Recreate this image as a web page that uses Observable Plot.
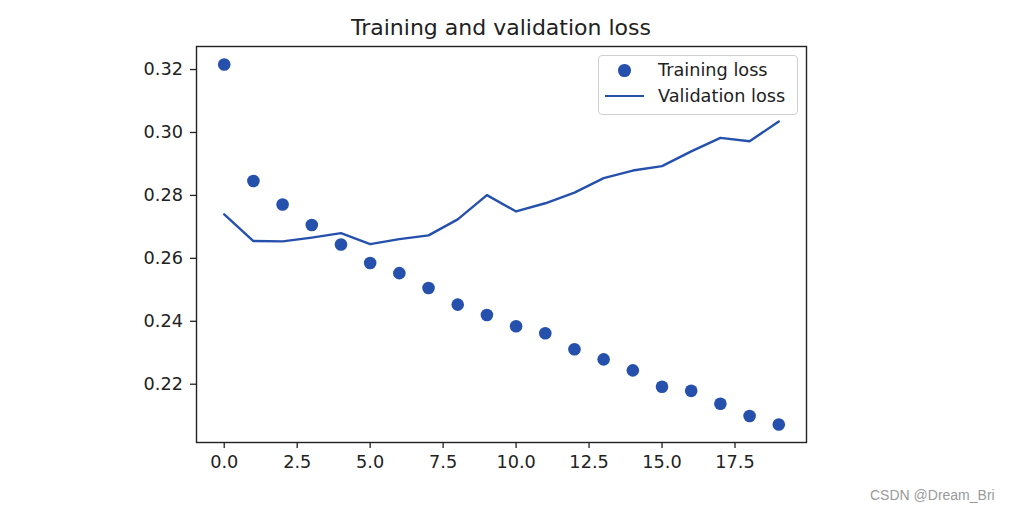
<!DOCTYPE html>
<html>
<head>
<meta charset="utf-8">
<script src="https://cdn.jsdelivr.net/npm/d3@7"></script>
<script src="https://cdn.jsdelivr.net/npm/@observablehq/plot@0.6"></script>
<style>
  html, body { margin: 0; padding: 0; background: #fff; }
  #wrap { position: relative; width: 1009px; height: 512px; overflow: hidden; font-family: "DejaVu Sans", sans-serif; color: #222; }
  #wrap svg { position: absolute; left: 0; top: 0; }
  .title { position: absolute; left: 196px; width: 610px; top: 17.4px; text-align: center; font-size: 22px; line-height: 22px; white-space: nowrap; }
  .legend { position: absolute; left: 598px; top: 55px; width: 198px; height: 58px; border: 1px solid #d0d0d0; border-radius: 4px; background: rgba(255,255,255,0.85); }
  .lt { position: absolute; font-size: 17.7px; line-height: 17.7px; white-space: nowrap; }
  .ldot { position: absolute; width: 12.6px; height: 12.6px; border-radius: 50%; }
  .lline { position: absolute; height: 2.4px; }
  .wm { position: absolute; left: 870px; top: 488px; font-family: "Liberation Sans", Arial, sans-serif; font-size: 14px; line-height: 14px; color: #9a9a9a; white-space: nowrap; }
</style>
</head>
<body>
<div id="wrap"></div>
<script>
const epochs = [0,1,2,3,4,5,6,7,8,9,10,11,12,13,14,15,16,17,18,19];
const trainingLoss = [0.3216,0.2846,0.2771,0.2706,0.2644,0.2585,0.2553,0.2506,0.2453,0.2420,0.2384,0.2362,0.2311,0.2279,0.2244,0.2192,0.2179,0.2138,0.2099,0.2072];
const validationLoss = [0.2740,0.2655,0.2654,0.2666,0.2680,0.2645,0.2661,0.2673,0.2724,0.2801,0.2749,0.2775,0.2809,0.2855,0.2879,0.2893,0.2940,0.2983,0.2972,0.3035];
const xTicks = [0,2.5,5,7.5,10,12.5,15,17.5];
const yTicks = [0.22,0.24,0.26,0.28,0.30,0.32];
const seriesNames = ["Training loss","Validation loss"];
const titleText = "Training and validation loss";
const watermark = "CSDN @Dream_Bri";

const color = "#2551ad";
const train = epochs.map((e,i) => ({epoch: e, loss: trainingLoss[i]}));
const val = epochs.map((e,i) => ({epoch: e, loss: validationLoss[i]}));

// matplotlib-style 5% margins
const xExt = d3.extent(epochs), yExt = d3.extent(trainingLoss.concat(validationLoss));
const xm = (xExt[1]-xExt[0])*0.05, ym = (yExt[1]-yExt[0])*0.05;

const plot = Plot.plot({
  width: 1009,
  height: 512,
  marginLeft: 196,
  marginRight: 203,
  marginTop: 46,
  marginBottom: 70,
  style: {fontFamily: "DejaVu Sans, sans-serif", fontSize: "17.7px", color: "#222", background: "transparent", overflow: "visible"},
  x: {domain: [xExt[0]-xm, xExt[1]+xm]},
  y: {domain: [yExt[0]-ym, yExt[1]+ym]},
  marks: [
    Plot.line(val, {x: "epoch", y: "loss", stroke: color, strokeWidth: 2.4, curve: "linear"}),
    Plot.dot(train, {x: "epoch", y: "loss", r: 6.3, fill: color, stroke: "none"}),
    Plot.frame({stroke: "#222", strokeWidth: 1.4}),
    Plot.axisX(xTicks, {tickSize: 6, tickPadding: 7, tickFormat: d3.format(".1f"), fontSize: 17.7, stroke: "#222", strokeWidth: 1.3, fill: "#222", label: null}),
    Plot.axisY(yTicks, {tickSize: 6, tickPadding: 7.5, tickFormat: d3.format(".2f"), fontSize: 17.7, stroke: "#222", strokeWidth: 1.3, fill: "#222", label: null})
  ]
});

const wrap = document.getElementById("wrap");
wrap.appendChild(plot);

const t = document.createElement("div");
t.className = "title"; t.textContent = titleText; wrap.appendChild(t);

const lg = document.createElement("div");
lg.className = "legend"; wrap.appendChild(lg);
const d = document.createElement("div");
d.className = "ldot"; d.style.background = color; d.style.left = (624.3-6.3-599)+"px"; d.style.top = (70.7-6.3-56)+"px"; lg.appendChild(d);
const ln = document.createElement("div");
ln.className = "lline"; ln.style.background = color; ln.style.left = (605-599)+"px"; ln.style.width = "39px"; ln.style.top = (96-1.2-56)+"px"; lg.appendChild(ln);
seriesNames.forEach((n,i) => {
  const s = document.createElement("div");
  s.className = "lt"; s.textContent = n;
  s.style.left = (658-599)+"px";
  s.style.top = ((i===0 ? 61.7 : 88.3)-56)+"px";
  lg.appendChild(s);
});

const w = document.createElement("div");
w.className = "wm"; w.textContent = watermark; wrap.appendChild(w);
</script>
</body>
</html>
